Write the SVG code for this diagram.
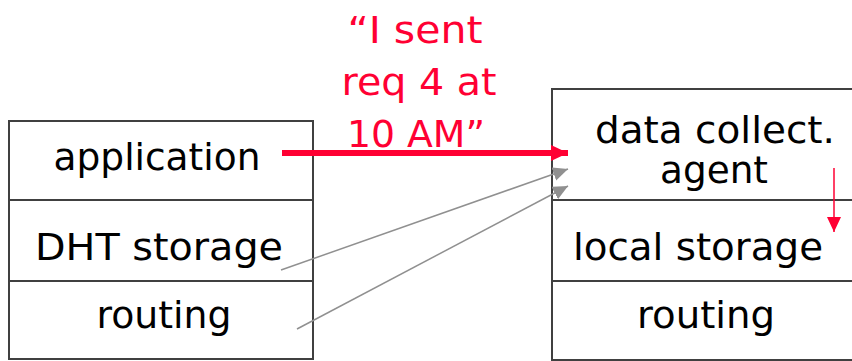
<svg xmlns="http://www.w3.org/2000/svg" width="852" height="361" viewBox="0 0 852 361">
<defs>
<style>
.box{fill:#fff;stroke:#404040;stroke-width:2}
.lbl{font-family:"DejaVu Sans","Liberation Sans",sans-serif;font-size:38px;fill:#000;text-anchor:middle}
.red{font-family:"DejaVu Sans","Liberation Sans",sans-serif;font-size:38px;fill:#ff0033;text-anchor:middle}
.gl{stroke:#909090;stroke-width:1.5;fill:none}
</style>
<marker id="ah" markerUnits="userSpaceOnUse" markerWidth="18" markerHeight="18" refX="17" refY="8" orient="auto"><path d="M0,0 L17,8 L0,16 Z" fill="#ff0033"/></marker>
<marker id="ahs" markerUnits="userSpaceOnUse" markerWidth="16" markerHeight="16" refX="15" refY="7" orient="auto"><path d="M0,0 L15,7 L0,14 Z" fill="#ff0033"/></marker>
<marker id="ahg" markerUnits="userSpaceOnUse" markerWidth="16" markerHeight="16" refX="15" refY="7" orient="auto"><path d="M0,0 L15,7 L0,14 Z" fill="#909090"/></marker>
</defs>
<rect width="852" height="361" fill="#fff"/>
<g id="left-stack">
<g id="left-application"><rect class="box" x="9" y="121" width="304" height="79"/><text class="lbl" x="157" y="170" textLength="207" lengthAdjust="spacingAndGlyphs">application</text></g>
<g id="left-dht"><rect class="box" x="9" y="200" width="304" height="81"/><text class="lbl" x="159" y="260" textLength="248" lengthAdjust="spacingAndGlyphs">DHT storage</text></g>
<g id="left-routing"><rect class="box" x="9" y="281" width="304" height="78"/><text class="lbl" x="164" y="328" textLength="135" lengthAdjust="spacingAndGlyphs">routing</text></g>
</g>
<g id="right-stack">
<g id="right-agent"><rect class="box" x="552" y="89" width="310" height="111"/><text class="lbl" x="715" y="143" textLength="240" lengthAdjust="spacingAndGlyphs">data collect.</text><text class="lbl" x="714" y="183" textLength="108" lengthAdjust="spacingAndGlyphs">agent</text></g>
<g id="right-local"><rect class="box" x="552" y="200" width="310" height="81"/><text class="lbl" x="698" y="260" textLength="250" lengthAdjust="spacingAndGlyphs">local storage</text></g>
<g id="right-routing"><rect class="box" x="552" y="281" width="310" height="79"/><text class="lbl" x="706" y="328" textLength="138" lengthAdjust="spacingAndGlyphs">routing</text></g>
</g>
<g id="label-message">
<text class="red" x="415" y="43" textLength="135" lengthAdjust="spacingAndGlyphs">“I sent</text>
<text class="red" x="419" y="95" textLength="155" lengthAdjust="spacingAndGlyphs">req 4 at</text>
<text class="red" x="416" y="147" textLength="138" lengthAdjust="spacingAndGlyphs">10 AM”</text>
</g>
<g id="connectors">
<line x1="282" y1="153" x2="568" y2="153" stroke="#ff0033" stroke-width="6" marker-end="url(#ah)"/>
<line class="gl" x1="281" y1="270" x2="568" y2="169" marker-end="url(#ahg)"/>
<line class="gl" x1="297" y1="329" x2="568" y2="186" marker-end="url(#ahg)"/>
<line x1="834" y1="168" x2="834" y2="232" stroke="#ff0033" stroke-width="1.5" marker-end="url(#ahs)"/>
</g>
</svg>
